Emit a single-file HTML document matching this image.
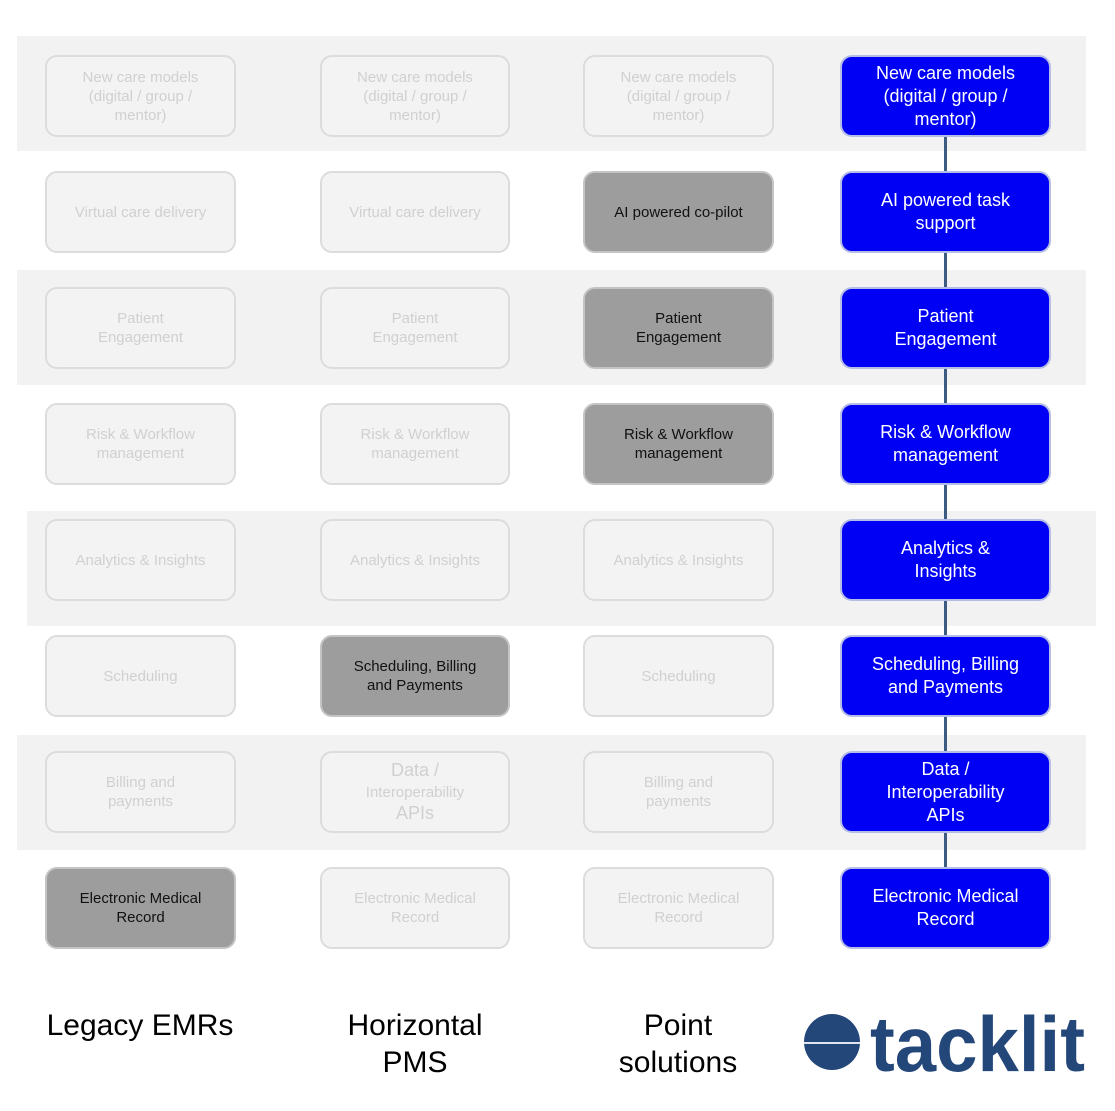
<!DOCTYPE html>
<html><head><style>
body{margin:0;width:1115px;height:1111px;background:#fff;position:relative;font-family:"Liberation Sans",Arial,sans-serif;overflow:hidden}
.band{position:absolute;background:#f2f2f2;height:115px}
.b{position:absolute;box-sizing:border-box;height:82px;border-radius:12px;display:flex;align-items:center;justify-content:center;text-align:center;line-height:19px;font-size:15px}
.f{border:2px solid #dcdcdc;color:#d0d0d0;background:#f3f3f3}
.g{border:2px solid #c4c4c4;background:#9d9d9d;color:#111}
.u{border:2px solid #b5bde6;background:#0000f5;color:#fff;font-size:18px;line-height:23px;font-weight:500}
.c1{left:45px;width:191px}.c2{left:320px;width:190px}.c3{left:583px;width:191px}.c4{left:840px;width:211px}
.lbl{position:absolute;font-size:30px;text-align:center;line-height:37px;color:#000}
.ln{position:absolute;left:944px;width:3px;background:#3d5a80}
</style></head><body>
<div class="band" style="left:17px;width:1069px;top:36px"></div>
<div class="band" style="left:17px;width:1069px;top:270px"></div>
<div class="band" style="left:27px;width:1069px;top:511px"></div>
<div class="band" style="left:17px;width:1069px;top:735px"></div>
<div class="ln" style="top:130px;height:750px"></div>

<div class="b f c1" style="top:55px">New care models<br>(digital / group /<br>mentor)</div>
<div class="b f c2" style="top:55px">New care models<br>(digital / group /<br>mentor)</div>
<div class="b f c3" style="top:55px">New care models<br>(digital / group /<br>mentor)</div>
<div class="b u c4" style="top:55px">New care models<br>(digital / group /<br>mentor)</div>

<div class="b f c1" style="top:171px">Virtual care delivery</div>
<div class="b f c2" style="top:171px">Virtual care delivery</div>
<div class="b g c3" style="top:171px">AI powered co-pilot</div>
<div class="b u c4" style="top:171px">AI powered task<br>support</div>

<div class="b f c1" style="top:287px">Patient<br>Engagement</div>
<div class="b f c2" style="top:287px">Patient<br>Engagement</div>
<div class="b g c3" style="top:287px">Patient<br>Engagement</div>
<div class="b u c4" style="top:287px">Patient<br>Engagement</div>

<div class="b f c1" style="top:403px">Risk &amp; Workflow<br>management</div>
<div class="b f c2" style="top:403px">Risk &amp; Workflow<br>management</div>
<div class="b g c3" style="top:403px">Risk &amp; Workflow<br>management</div>
<div class="b u c4" style="top:403px">Risk &amp; Workflow<br>management</div>

<div class="b f c1" style="top:519px">Analytics &amp; Insights</div>
<div class="b f c2" style="top:519px">Analytics &amp; Insights</div>
<div class="b f c3" style="top:519px">Analytics &amp; Insights</div>
<div class="b u c4" style="top:519px">Analytics &amp;<br>Insights</div>

<div class="b f c1" style="top:635px">Scheduling</div>
<div class="b g c2" style="top:635px">Scheduling, Billing<br>and Payments</div>
<div class="b f c3" style="top:635px">Scheduling</div>
<div class="b u c4" style="top:635px">Scheduling, Billing<br>and Payments</div>

<div class="b f c1" style="top:751px">Billing and<br>payments</div>
<div class="b f c2" style="top:751px;line-height:21px"><span><span style="font-size:18px">Data /</span><br>Interoperability<br><span style="font-size:18px">APIs</span></span></div>
<div class="b f c3" style="top:751px">Billing and<br>payments</div>
<div class="b u c4" style="top:751px">Data /<br>Interoperability<br>APIs</div>

<div class="b g c1" style="top:867px">Electronic Medical<br>Record</div>
<div class="b f c2" style="top:867px">Electronic Medical<br>Record</div>
<div class="b f c3" style="top:867px">Electronic Medical<br>Record</div>
<div class="b u c4" style="top:867px">Electronic Medical<br>Record</div>

<div class="lbl" style="left:20px;width:240px;top:1007px">Legacy EMRs</div>
<div class="lbl" style="left:295px;width:240px;top:1007px">Horizontal<br>PMS</div>
<div class="lbl" style="left:558px;width:240px;top:1007px">Point<br>solutions</div>

<svg style="position:absolute;left:800px;top:1005px" width="300" height="80">
<circle cx="32" cy="37" r="28" fill="#24477a"/>
<rect x="4" y="37" width="56" height="2" fill="#dfe6f0"/>
<text x="70" y="66" font-family="Liberation Sans, Arial, sans-serif" font-weight="bold" font-size="78" fill="#24477a" textLength="215" lengthAdjust="spacingAndGlyphs">tacklit</text>
</svg>
</body></html>
